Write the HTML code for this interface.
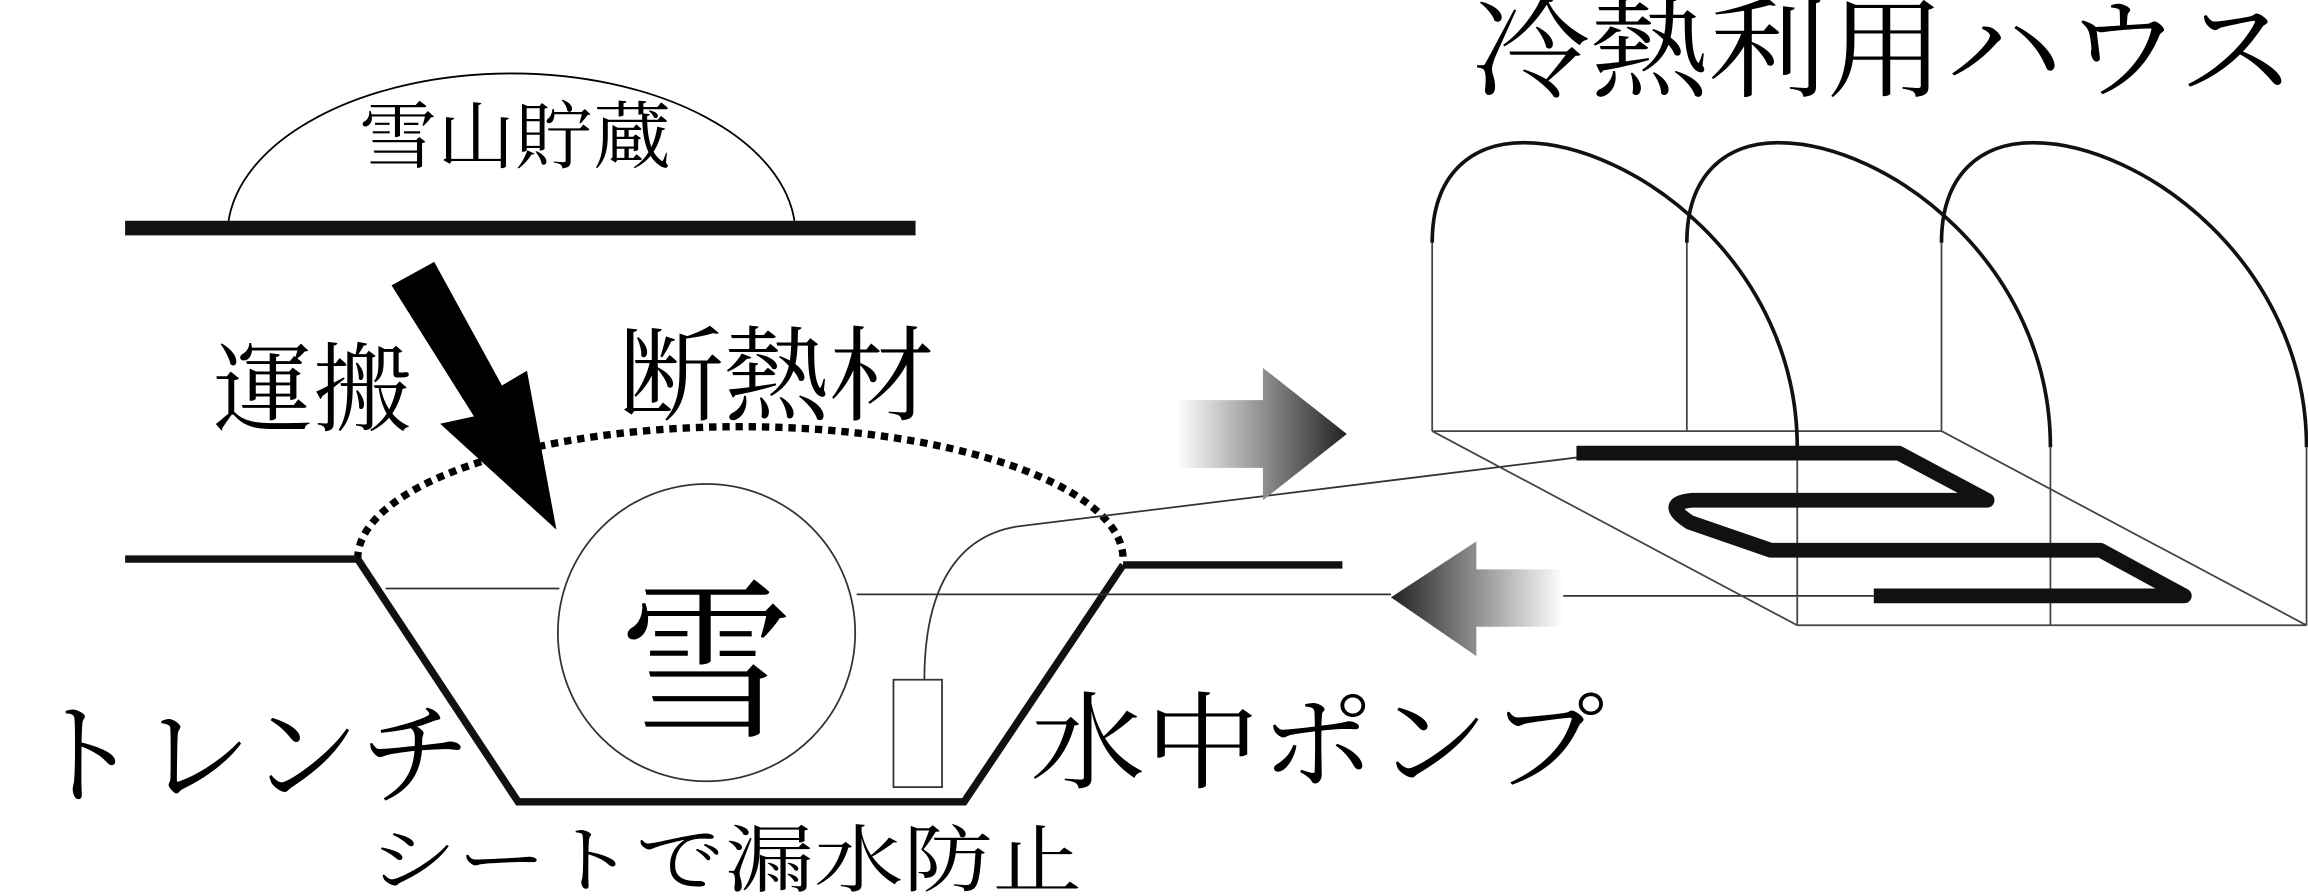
<!DOCTYPE html>
<html><head><meta charset="utf-8"><style>
html,body{margin:0;padding:0;background:#fff;}
svg{display:block;}
text{font-family:"Liberation Serif","Noto Serif CJK SC",serif;fill:#000;}
</style></head><body>
<svg width="2308" height="896" viewBox="0 0 1568 609" preserveAspectRatio="none" xmlns="http://www.w3.org/2000/svg">
<defs>
<linearGradient id="gr" x1="0" x2="1" y1="0" y2="0"><stop offset="0" stop-color="#fff"/><stop offset="1" stop-color="#222"/></linearGradient>
<linearGradient id="gl" x1="0" x2="1" y1="0" y2="0"><stop offset="0" stop-color="#222"/><stop offset="1" stop-color="#fff"/></linearGradient>
</defs>
<!-- dome -->
<path d="M155,152 A193,110 0 0 1 540,152" fill="none" stroke="#000" stroke-width="1.2"/>
<text x="350" y="110" font-size="50" text-anchor="middle" textLength="212" lengthAdjust="spacingAndGlyphs">雪山貯蔵</text>
<line x1="85" y1="155" x2="622" y2="155" stroke="#111" stroke-width="10"/>
<!-- big arrow -->
<polygon points="295,178 266,194 322,283 299,288 378,360 358,252 341,262" fill="#000"/>
<text x="145" y="288" font-size="66" textLength="135" lengthAdjust="spacingAndGlyphs">運搬</text>
<text x="420" y="280" font-size="70" textLength="215" lengthAdjust="spacingAndGlyphs">断熱材</text>
<!-- dotted arc -->
<path d="M243,380 A260,90 0 0 1 763,380" fill="none" stroke="#000" stroke-width="5" stroke-dasharray="5,4"/>
<!-- ground -->
<line x1="85" y1="380" x2="243" y2="380" stroke="#111" stroke-width="5"/>
<line x1="763" y1="384" x2="912" y2="384" stroke="#111" stroke-width="5"/>
<polyline points="243,380 352,545 655,545 763,384" fill="none" stroke="#111" stroke-width="5"/>
<!-- water line -->
<line x1="262" y1="400" x2="380" y2="400" stroke="#333" stroke-width="1.2"/>
<line x1="582" y1="404" x2="945" y2="404" stroke="#333" stroke-width="1.2"/>
<circle cx="480" cy="430" r="101" fill="#fff" stroke="#333" stroke-width="1.2"/>
<text x="480" y="492" font-size="118" text-anchor="middle">雪</text>
<!-- pump -->
<rect x="607" y="462" width="33" height="73" fill="#fff" stroke="#333" stroke-width="1.2"/>
<path d="M628,462 C628,400 650,365 690,358 L1071,311" fill="none" stroke="#333" stroke-width="1.2"/>
<text x="20" y="540" font-size="76" textLength="300" lengthAdjust="spacingAndGlyphs">トレンチ</text>
<text x="700" y="530" font-size="72" textLength="390" lengthAdjust="spacingAndGlyphs">水中ポンプ</text>
<text x="250" y="602" font-size="50" textLength="485" lengthAdjust="spacingAndGlyphs">シートで漏水防止</text>
<text x="1000" y="60" font-size="74" textLength="560" lengthAdjust="spacingAndGlyphs">冷熱利用ハウス</text>
<!-- gradient arrows -->
<polygon points="800,272 858,272 858,250 915,295 858,340 858,318 800,318" fill="url(#gr)"/>
<polygon points="945,406 1003,368 1003,387 1062,387 1062,426 1003,426 1003,446" fill="url(#gl)"/>
<line x1="1062" y1="405" x2="1273" y2="405" stroke="#333" stroke-width="1.2"/>
<!-- house -->
<g fill="none" stroke="#444" stroke-width="1.2">
<line x1="973" y1="165" x2="973" y2="293"/>
<line x1="1146" y1="165" x2="1146" y2="293"/>
<line x1="1319" y1="165" x2="1319" y2="293"/>
<line x1="973" y1="293" x2="1319" y2="293"/>
<line x1="973" y1="293" x2="1221" y2="425"/>
<line x1="1319" y1="293" x2="1567" y2="425"/>
<line x1="1221" y1="304" x2="1221" y2="425"/>
<line x1="1393" y1="304" x2="1393" y2="425"/>
<line x1="1567" y1="304" x2="1567" y2="425"/>
<line x1="1221" y1="425" x2="1567" y2="425"/>
</g>
<g fill="none" stroke="#111" stroke-width="2.5">
<path d="M973,165 C973,118 1000,97 1035,97 C1110,97 1221,180 1221,304"/>
<path d="M1146,165 C1146,118 1173,97 1208,97 C1283,97 1393,180 1393,304"/>
<path d="M1319,165 C1319,118 1346,97 1381,97 C1456,97 1567,180 1567,304"/>
</g>
<path d="M1071,308 H1290 L1350,340 H1150 Q1128,342 1148,355 L1203,374 H1427 L1484,405 H1273" fill="none" stroke="#111" stroke-width="10" stroke-linejoin="round"/>
</svg>
</body></html>
